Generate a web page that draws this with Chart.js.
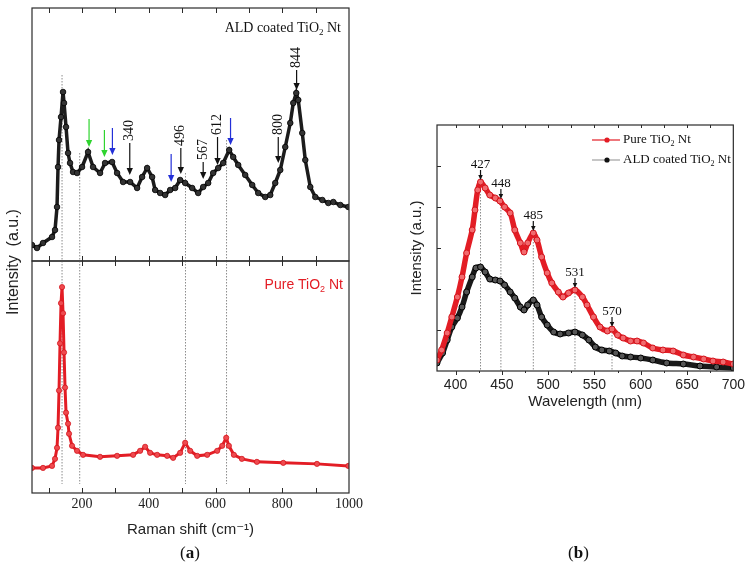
<!DOCTYPE html>
<html>
<head>
<meta charset="utf-8">
<script src="https://cdn.jsdelivr.net/npm/chart.js@4.4.0/dist/chart.umd.min.js"></script>
<style>
  body { margin: 0; background: #fff; }
  #wrap { position: relative; width: 751px; height: 575px; background: #fff; }
  #wrap canvas { position: absolute; left: 0; top: 0; }
  .tag { position: absolute; font-family: 'Liberation Serif', serif; font-size: 17px; color: #111; }
</style>
</head>
<body>
<div id="wrap">
  <canvas id="ramanTop" width="751" height="575"></canvas>
  <canvas id="ramanBottom" width="751" height="575"></canvas>
  <canvas id="plChart" width="751" height="575"></canvas>
  <div class="tag" style="left:180px; top:543px;">(<b>a</b>)</div>
  <div class="tag" style="left:568px; top:543px;">(<b>b</b>)</div>
</div>
<script>
// (a) Raman, ALD coated TiO2 Nt (upper panel)
const aldShift = [50,65,83,110,119,125,128,131,137,143,146,152,158,164,173,185,200,218,233,254,269,290,305,323,344,365,380,395,410,419,434,449,464,479,494,509,530,548,563,578,593,608,623,641,653,668,689,710,728,749,764,779,794,809,824,833,842,848,860,869,884,899,920,938,953,974,998];
const aldIntensity = [16,13,18,24,31,54,94,121,144,169,158,134,108,98,89,88,94,109,94,88,98,99,88,79,79,73,84,93,84,71,68,66,71,73,81,78,73,68,74,78,88,93,98,111,104,96,86,76,68,64,66,78,91,114,138,158,168,161,128,101,74,64,61,58,59,56,54];

// (a) Raman, pure TiO2 Nt (lower panel)
const pureShift = [50,83,110,119,125,128,131,134,137,140,143,146,149,152,158,161,170,185,203,254,305,353,374,389,404,425,455,473,494,509,524,545,575,605,620,632,640,655,679,724,803,904,998];
const pureIntensity = [25,25,27,34,45,65,102,149,189,205,179,140,105,80,69,59,47,42,38,36,37,38,42,46,40,38,37,35,40,50,42,37,38,42,47,55,47,38,34,31,30,29,27];

// dotted guide lines in (a): shift, and where they start in the upper panel
const ramanGuideShift = [140, 193, 510, 633];
const ramanGuideTop = [186, 108, 88, 121];
const ramanGuideBottom = 9;

// arrows in (a)
const ramanArrowShift = [221, 267, 291, 343, 467, 496, 563, 606, 645, 788, 843];
const ramanArrowFrom = [142, 131, 133, 118, 107, 113, 99, 124, 143, 124, 191];
const ramanArrowTo = [114, 104, 106, 86, 79, 87, 82, 96, 116, 98, 171];
const ramanArrowLabel = ['', '', '', '340', '', '496', '567', '612', '', '800', '844'];
const ramanArrowKind = ['green', 'green', 'blue', 'black', 'blue', 'black', 'black', 'black', 'blue', 'black', 'black'];

// (b) photoluminescence
const pureNm = [380,385,391,396,402,407,412,418,421,424,427,432,437,443,448,453,459,464,470,474,478,484,488,493,499,504,511,516,522,529,537,542,549,556,564,569,575,581,589,596,603,613,624,635,646,657,668,678,689,700];
const purePL = [11,21,38,54,74,94,118,141,161,181,189,183,176,173,170,164,158,141,128,119,128,138,131,114,98,88,79,74,78,81,74,66,54,44,40,42,36,33,30,30,28,23,21,20,16,14,12,10,9,7];
const aldNm = [380,386,391,396,402,407,412,418,422,427,432,437,443,448,453,459,464,470,474,478,484,488,493,499,506,513,522,529,537,544,551,558,566,573,580,589,600,613,628,646,664,682,700];
const aldPL = [8,18,31,44,53,64,79,94,103,104,99,92,91,90,86,79,73,64,61,66,71,66,54,46,39,37,38,39,36,31,24,21,20,18,15,14,13,11,8,7,5,4,3];

const plPeakNm = [427, 449, 484, 529, 569];
const plPeakValue = [189, 170, 138, 81, 42];
const plPeakLabel = ['427', '448', '485', '531', '570'];

const INK = '#2b2b2b';
const RED = '#e31d25';
const SERIF = "'Liberation Serif', 'DejaVu Serif', serif";
const SANS = "'Liberation Sans', 'DejaVu Sans', sans-serif";
const arrowColors = { green: '#2fd42f', blue: '#2330d8', black: '#111' };

function pts(xs, ys) { return xs.map((x, i) => ({ x, y: ys[i] })); }

function frame(chart) {
  const { ctx, chartArea: a } = chart;
  ctx.save();
  ctx.strokeStyle = INK;
  ctx.lineWidth = 1.2;
  ctx.strokeRect(a.left, a.top, a.right - a.left, a.bottom - a.top);
  ctx.restore();
}

function tick(ctx, x0, y0, x1, y1) {
  ctx.beginPath(); ctx.moveTo(x0, y0); ctx.lineTo(x1, y1); ctx.stroke();
}

function richText(ctx, parts, x, y, size, family, align, color) {
  ctx.save();
  ctx.fillStyle = color;
  ctx.textBaseline = 'middle';
  ctx.textAlign = 'left';
  const fontOf = sub => `${sub ? Math.round(size * 0.62) : size}px ${family}`;
  const widths = parts.map(([t, sub]) => { ctx.font = fontOf(sub); return ctx.measureText(t).width; });
  const total = widths.reduce((s, w) => s + w, 0);
  let cx = align === 'right' ? x - total : x;
  parts.forEach(([t, sub], i) => {
    ctx.font = fontOf(sub);
    ctx.fillText(t, cx, sub ? y + size * 0.3 : y);
    cx += widths[i];
  });
  ctx.restore();
}

function arrow(ctx, x, y0, y1, color, head) {
  ctx.save();
  ctx.strokeStyle = color;
  ctx.fillStyle = color;
  ctx.lineWidth = 1.2;
  ctx.beginPath(); ctx.moveTo(x, y0); ctx.lineTo(x, y1 - head); ctx.stroke();
  ctx.beginPath();
  ctx.moveTo(x - head * 0.45, y1 - head);
  ctx.lineTo(x + head * 0.45, y1 - head);
  ctx.lineTo(x, y1);
  ctx.closePath();
  ctx.fill();
  ctx.restore();
}

function dotted(ctx, x, y0, y1) {
  ctx.save();
  ctx.strokeStyle = '#8c8c8c';
  ctx.lineWidth = 1;
  ctx.setLineDash([1.5, 1.5]);
  ctx.beginPath(); ctx.moveTo(x, y0); ctx.lineTo(x, y1); ctx.stroke();
  ctx.restore();
}

function ramanTicks(chart) {
  const { ctx, chartArea: a, scales: { x } } = chart;
  ctx.save();
  ctx.strokeStyle = INK;
  ctx.lineWidth = 1;
  for (let v = 100; v < 1000; v += 100) {
    const px = Math.round(x.getPixelForValue(v)) + 0.5;
    tick(ctx, px, a.top, px, a.top + 5);
    tick(ctx, px, a.bottom, px, a.bottom - 5);
  }
  ctx.restore();
}

const topPlugin = {
  id: 'ramanTopDeco',
  beforeDatasetsDraw(chart) {
    const { ctx, chartArea: a, scales: { x, y } } = chart;
    ramanGuideShift.forEach((s, i) => dotted(ctx, x.getPixelForValue(s), y.getPixelForValue(ramanGuideTop[i]), a.bottom));
  },
  afterDraw(chart) {
    const { ctx, scales: { x, y } } = chart;
    frame(chart);
    ramanTicks(chart);
    ramanArrowShift.forEach((s, i) => {
      const px = x.getPixelForValue(s);
      const y0 = y.getPixelForValue(ramanArrowFrom[i]);
      arrow(ctx, px, y0, y.getPixelForValue(ramanArrowTo[i]), arrowColors[ramanArrowKind[i]], 7);
      if (ramanArrowLabel[i]) {
        ctx.save();
        ctx.translate(px, y0 - 2);
        ctx.rotate(-Math.PI / 2);
        ctx.font = `14px ${SERIF}`;
        ctx.fillStyle = '#111';
        ctx.textAlign = 'left';
        ctx.textBaseline = 'middle';
        ctx.fillText(ramanArrowLabel[i], 0, 0);
        ctx.restore();
      }
    });
    richText(ctx, [['ALD coated TiO', 0], ['2', 1], [' Nt', 0]], 341, 28, 14, SERIF, 'right', '#111');
    ctx.save();
    ctx.translate(14, 262);
    ctx.rotate(-Math.PI / 2);
    ctx.font = `16px ${SANS}`;
    ctx.fillStyle = '#222';
    ctx.textAlign = 'center';
    ctx.textBaseline = 'middle';
    ctx.fillText('Intensity  (a.u.)', 0, 0);
    ctx.restore();
  }
};

const bottomPlugin = {
  id: 'ramanBottomDeco',
  beforeDatasetsDraw(chart) {
    const { ctx, chartArea: a, scales: { x, y } } = chart;
    ramanGuideShift.forEach(s => dotted(ctx, x.getPixelForValue(s), a.top, y.getPixelForValue(ramanGuideBottom)));
  },
  afterDraw(chart) {
    frame(chart);
    ramanTicks(chart);
    richText(chart.ctx, [['Pure TiO', 0], ['2', 1], [' Nt', 0]], 343, 285, 14, SANS, 'right', RED);
  }
};

const plPlugin = {
  id: 'plDeco',
  beforeDatasetsDraw(chart) {
    const { ctx, chartArea: a, scales: { x, y } } = chart;
    plPeakNm.forEach((nm, i) => dotted(ctx, x.getPixelForValue(nm), y.getPixelForValue(plPeakValue[i]), a.bottom));
  },
  afterDraw(chart) {
    const { ctx, chartArea: a, scales: { x, y } } = chart;
    frame(chart);
    ctx.save();
    ctx.strokeStyle = INK;
    ctx.lineWidth = 1;
    x.ticks.forEach(t => {
      if (t.value <= x.min || t.value >= x.max) return;
      const px = Math.round(x.getPixelForValue(t.value)) + 0.5;
      tick(ctx, px, a.bottom, px, a.bottom + 4);
    });
    for (let v = 425; v < 700; v += 50) {
      const px = Math.round(x.getPixelForValue(v)) + 0.5;
      tick(ctx, px, a.bottom, px, a.bottom + 2);
    }
    for (let v = 400; v < 700; v += 25) {
      const px = Math.round(x.getPixelForValue(v)) + 0.5;
      tick(ctx, px, a.top, px, a.top + 3);
    }
    y.ticks.forEach(t => {
      if (t.value <= y.min || t.value >= y.max) return;
      const py = Math.round(y.getPixelForValue(t.value)) + 0.5;
      tick(ctx, a.left, py, a.left + 4, py);
    });
    ctx.restore();

    plPeakNm.forEach((nm, i) => {
      const px = x.getPixelForValue(nm);
      const tip = y.getPixelForValue(plPeakValue[i]) - 2;
      arrow(ctx, px, tip - 10, tip, '#111', 5);
      ctx.save();
      ctx.font = `13px ${SERIF}`;
      ctx.fillStyle = '#111';
      ctx.textAlign = 'center';
      ctx.textBaseline = 'alphabetic';
      ctx.fillText(plPeakLabel[i], px, tip - 12);
      ctx.restore();
    });

    // legend
    const rows = [
      { y: 140, line: RED, dot: RED, parts: [['Pure TiO', 0], ['2', 1], [' Nt', 0]] },
      { y: 160, line: '#a0a0a0', dot: '#111', parts: [['ALD coated TiO', 0], ['2', 1], [' Nt', 0]] }
    ];
    rows.forEach(r => {
      ctx.save();
      ctx.strokeStyle = r.line;
      ctx.lineWidth = 1.2;
      tick(ctx, 592, r.y, 620, r.y);
      ctx.fillStyle = r.dot;
      ctx.beginPath(); ctx.arc(607, r.y, 2.6, 0, Math.PI * 2); ctx.fill();
      ctx.restore();
      richText(ctx, r.parts, 623, r.y, 13, SERIF, 'left', '#111');
    });
  }
};

const quiet = { legend: { display: false }, tooltip: { enabled: false } };

new Chart(document.getElementById('ramanTop'), {
  type: 'line',
  data: {
    datasets: [{
      label: 'ALD coated TiO2 Nt',
      data: pts(aldShift, aldIntensity),
      borderColor: '#1c1c1c',
      borderWidth: 3.5,
      pointRadius: 2.8,
      pointBackgroundColor: '#333',
      pointBorderColor: '#000',
      pointBorderWidth: 0.8,
      tension: 0
    }]
  },
  options: {
    responsive: false,
    animation: false,
    layout: { padding: { left: 32, top: 8, right: 402, bottom: 314 } },
    plugins: quiet,
    scales: {
      x: { type: 'linear', display: false, min: 50, max: 1000 },
      y: { display: false, min: 0, max: 253 }
    }
  },
  plugins: [topPlugin]
});

new Chart(document.getElementById('ramanBottom'), {
  type: 'line',
  data: {
    datasets: [{
      label: 'Pure TiO2 Nt',
      data: pts(pureShift, pureIntensity),
      borderColor: RED,
      borderWidth: 3,
      pointRadius: 2.6,
      pointBackgroundColor: '#ef4a4f',
      pointBorderColor: '#d4141c',
      pointBorderWidth: 0.8,
      tension: 0
    }]
  },
  options: {
    responsive: false,
    animation: false,
    layout: { padding: { left: 32, top: 261, right: 402, bottom: 36 } },
    plugins: quiet,
    scales: {
      x: {
        type: 'linear', min: 50, max: 1000,
        grid: { display: false, drawTicks: false },
        border: { display: false },
        ticks: {
          stepSize: 100, includeBounds: false, autoSkip: false, maxRotation: 0, padding: 3,
          color: '#222', font: { family: SERIF, size: 14 },
          callback: v => (v % 200 === 0 ? v : '')
        },
        title: { display: true, text: 'Raman shift (cm⁻¹)', color: '#222', font: { family: SANS, size: 15 }, padding: 0 },
        afterFit: s => { s.height = 46; }
      },
      y: { display: false, min: 0, max: 231 }
    }
  },
  plugins: [bottomPlugin]
});

new Chart(document.getElementById('plChart'), {
  type: 'line',
  data: {
    datasets: [{
      label: 'Pure TiO2 Nt',
      data: pts(pureNm, purePL),
      borderColor: RED,
      borderWidth: 5.5,
      pointRadius: 3,
      pointBackgroundColor: '#f26a6e',
      pointBorderColor: '#d4141c',
      pointBorderWidth: 1,
      tension: 0.3
    }, {
      label: 'ALD coated TiO2 Nt',
      data: pts(aldNm, aldPL),
      borderColor: '#1a1a1a',
      borderWidth: 5.5,
      pointRadius: 3,
      pointBackgroundColor: '#555',
      pointBorderColor: '#000',
      pointBorderWidth: 1,
      tension: 0.3
    }]
  },
  options: {
    responsive: false,
    animation: false,
    layout: { padding: { left: 408, top: 125, right: 17, bottom: 164 } },
    plugins: quiet,
    scales: {
      x: {
        type: 'linear', min: 380, max: 700,
        grid: { display: false, drawTicks: false },
        border: { display: false },
        ticks: {
          stepSize: 50, includeBounds: false, autoSkip: false, maxRotation: 0, padding: 6,
          color: '#222', font: { family: SANS, size: 14 }
        },
        title: { display: true, text: 'Wavelength (nm)', color: '#222', font: { family: SANS, size: 15 }, padding: 0 },
        afterFit: s => { s.height = 40; }
      },
      y: {
        min: 0, max: 246,
        grid: { display: false, drawTicks: false },
        border: { display: false },
        ticks: { display: false, stepSize: 41 },
        title: { display: true, text: 'Intensity (a.u.)', color: '#222', font: { family: SANS, size: 15 }, padding: 0 },
        afterFit: s => { s.width = 29; }
      }
    }
  },
  plugins: [plPlugin]
});
</script>
</body>
</html>
